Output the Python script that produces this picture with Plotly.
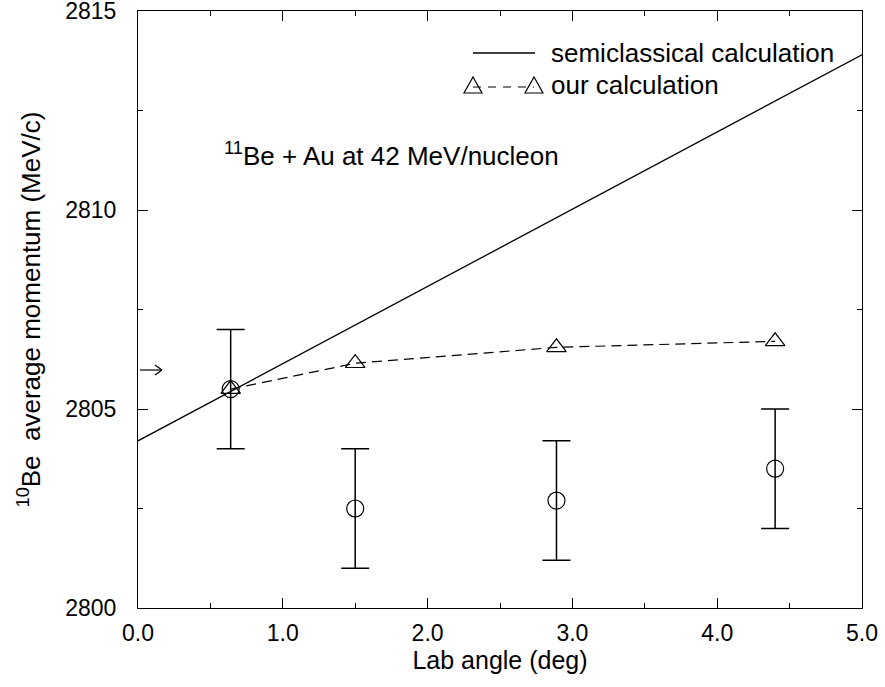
import plotly.graph_objects as go

# semiclassical straight line (end points)
semi_x = [0.0, 5.0]
semi_y = [2804.2, 2813.9]

# our calculation
calc_x = [0.64, 1.50, 2.89, 4.40]
calc_y = [2805.5, 2806.15, 2806.55, 2806.7]

# measured data with error bars
data_x = [0.64, 1.50, 2.89, 4.40]
data_y = [2805.5, 2802.5, 2802.7, 2803.5]
data_err = [1.5, 1.5, 1.5, 1.5]

x_ticks = [0, 1, 2, 3, 4, 5]
x_ticktext = ["0.0", "1.0", "2.0", "3.0", "4.0", "5.0"]
y_ticks = [2800, 2805, 2810, 2815]

font = "Liberation Sans, Arial, sans-serif"
W, H = 885, 687
L, R, T, B = 138, 23, 11, 79


def px(x, y):
    # pixel position -> paper coordinates
    return (x - L) / (W - L - R), (H - B - y) / (H - T - B)


fig = go.Figure()

fig.add_trace(go.Scatter(
    x=semi_x, y=semi_y, mode="lines",
    line=dict(color="black", width=1.3), showlegend=False
))

fig.add_trace(go.Scatter(
    x=calc_x, y=calc_y, mode="lines+markers",
    line=dict(color="black", width=1.2, dash="10px,6px"),
    marker=dict(symbol="triangle-up-open", size=17, color="black", line=dict(width=1.2)),
    showlegend=False
))

fig.add_trace(go.Scatter(
    x=data_x, y=data_y, mode="markers",
    marker=dict(symbol="circle-open", size=17, color="black", line=dict(width=1.2)),
    error_y=dict(type="data", array=data_err, color="black", thickness=1.5, width=14),
    showlegend=False
))

axis_common = dict(
    showgrid=False, zeroline=False, showline=True, mirror="ticks",
    linecolor="black", linewidth=1.2, ticks="inside", tickcolor="black",
    ticklen=10, tickwidth=1, tickfont=dict(size=23, color="black", family=font),
    ticklabeloverflow="allow", automargin=False,
)

fig.update_xaxes(
    range=[0, 5], tickvals=x_ticks, ticktext=x_ticktext,
    minor=dict(ticks="inside", ticklen=5, tickcolor="black", dtick=0.5),
    ticklabelstandoff=4,
    title=dict(text="Lab angle (deg)", font=dict(size=25, color="black", family=font), standoff=6),
    **axis_common
)
fig.update_yaxes(
    range=[2800, 2815], tickvals=y_ticks,
    minor=dict(ticks="inside", ticklen=5, tickcolor="black", dtick=2.5),
    ticklabelstandoff=16,
    title=dict(text="<sup>10</sup>Be  average momentum (MeV/c)", font=dict(size=26, color="black", family=font), standoff=17),
    **axis_common
)

fig.add_annotation(
    x=0.58, y=2811.4, xref="x", yref="y", xanchor="left", yanchor="middle", showarrow=False,
    text="<sup>11</sup>Be + Au at 42 MeV/nucleon",
    font=dict(size=26, color="black", family=font)
)

shapes = []


def seg(xa, ya, xb, yb, **line):
    p0 = px(xa, ya)
    p1 = px(xb, yb)
    shapes.append(dict(type="line", xref="paper", yref="paper",
                       x0=p0[0], y0=p0[1], x1=p1[0], y1=p1[1],
                       line=dict(color="black", width=line.get("width", 1.2), dash=line.get("dash", "solid"))))


# small arrow at the left axis
seg(140, 370, 162, 370)
seg(162, 370, 155, 365)
seg(162, 370, 155, 375)

# legend drawn by hand
seg(473, 53, 535, 53, width=1.3)
seg(473, 87, 534, 87, dash="8px,7px")
for cx in (473, 534):
    a = px(cx - 9, 93)
    b = px(cx + 9, 93)
    c = px(cx, 77)
    shapes.append(dict(type="path", xref="paper", yref="paper",
                       path=f"M {a[0]},{a[1]} L {b[0]},{b[1]} L {c[0]},{c[1]} Z",
                       fillcolor="rgba(0,0,0,0)", line=dict(color="black", width=1.2)))
fig.update_layout(shapes=shapes)

tx, ty = px(549, 53)
fig.add_annotation(x=tx, y=ty, xref="paper", yref="paper", xanchor="left", yanchor="middle", showarrow=False,
                   text="semiclassical calculation", font=dict(size=26, color="black", family=font))
tx, ty = px(549, 85)
fig.add_annotation(x=tx, y=ty, xref="paper", yref="paper", xanchor="left", yanchor="middle", showarrow=False,
                   text="our calculation", font=dict(size=26, color="black", family=font))

fig.update_layout(
    width=W, height=H,
    margin=dict(l=L, r=R, t=T, b=B),
    plot_bgcolor="white", paper_bgcolor="white",
    font=dict(family=font, color="black"),
    showlegend=False,
)

fig.write_html("out.html", config={"displayModeBar": False},
               post_script="document.body.style.margin='0';")
